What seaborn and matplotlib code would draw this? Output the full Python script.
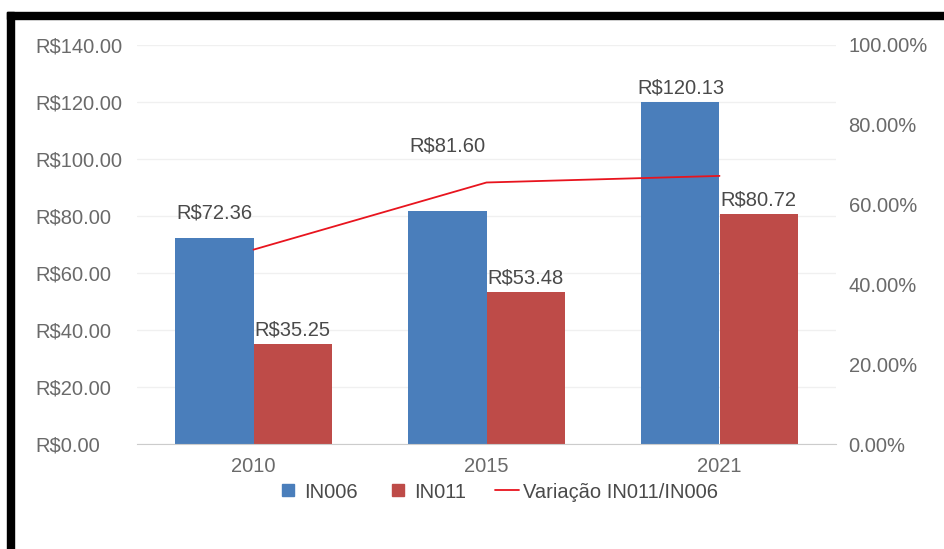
import seaborn as sns
import pandas as pd
import numpy as np
import matplotlib.pyplot as plt
from matplotlib.lines import Line2D
from matplotlib.patches import Rectangle
from matplotlib.ticker import FuncFormatter, MultipleLocator

anos = ['2010', '2015', '2021']
in006 = [72.36, 81.60, 120.13]
in011 = [35.25, 53.48, 80.72]
variacao = [48.71, 65.54, 67.19]  # %

sns.set_style('white')
plt.rcParams['font.family'] = ['Liberation Sans', 'DejaVu Sans']
plt.rcParams['text.parse_math'] = False

azul = '#4a7ebb'
vermelho = '#be4b48'
linha = '#e8141e'
cinza = '#6a6a6a'

df = pd.DataFrame({
    'ano': anos * 2,
    'valor': in006 + in011,
    'serie': ['IN006'] * 3 + ['IN011'] * 3,
})

fig = plt.figure(figsize=(9.44, 5.49), dpi=100)
ax = fig.add_axes([137 / 944, 1 - 444 / 549, 699 / 944, 399 / 549])

sns.barplot(data=df, x='ano', y='valor', hue='serie', palette=[azul, vermelho],
            width=0.67, gap=0, saturation=1, linewidth=0, ax=ax, legend=False)
ax.set_ylim(0, 140)
ax.set_xlim(-0.5, 2.5)
ax.yaxis.set_major_locator(MultipleLocator(20))
ax.yaxis.set_major_formatter(FuncFormatter(lambda v, p: f'R${v:.2f}'))
ax.set_xlabel('')
ax.set_ylabel('')
ax.grid(axis='y', color='#f0f0f0', linewidth=1)
ax.set_axisbelow(True)
for s in ['top', 'right', 'left']:
    ax.spines[s].set_visible(False)
ax.spines['bottom'].set_color('#cccccc')
ax.tick_params(axis='y', length=0, pad=73, labelsize=14.5, labelcolor=cinza)
ax.tick_params(axis='x', length=0, pad=9, labelsize=14.5, labelcolor=cinza)
for lab in ax.get_yticklabels():
    lab.set_horizontalalignment('left')

# rótulos das barras (alguns deslocados para não cruzar a linha)
pads = [[11, 40, 3], [3, 3, 3]]
for cont, vals, pd_ in zip(ax.containers, [in006, in011], pads):
    for bar, v, p in zip(cont, vals, pd_):
        ax.annotate(f'R${v:.2f}', (bar.get_x() + bar.get_width() / 2, bar.get_height()),
                    xytext=(0, p), textcoords='offset points', ha='center', va='bottom',
                    fontsize=14.5, color='#4a4a4a')

ax2 = ax.twinx()
sns.lineplot(x=np.arange(len(anos)), y=variacao, color=linha, linewidth=1.3, ax=ax2)
ax2.set_ylim(0, 100)
ax2.yaxis.set_major_locator(MultipleLocator(20))
ax2.yaxis.set_major_formatter(FuncFormatter(lambda v, p: f'{v:.2f}%'))
for s in ax2.spines.values():
    s.set_visible(False)
ax2.tick_params(axis='y', length=0, pad=9, labelsize=14.5, labelcolor=cinza)

handles = [
    Line2D([], [], marker='s', linestyle='none', markersize=8, color=azul),
    Line2D([], [], marker='s', linestyle='none', markersize=8, color=vermelho),
    Line2D([], [], color=linha, linewidth=1.3),
]
fig.legend(handles, ['IN006', 'IN011', 'Variação IN011/IN006'], loc='center',
           bbox_to_anchor=(497 / 944, 1 - 492 / 549), ncol=3, frameon=False,
           fontsize=14.5, labelcolor='#4a4a4a', handlelength=1.2, handletextpad=0.2,
           columnspacing=1.4)

# moldura preta da captura
fig.add_artist(Rectangle((7 / 944, 1 - 19 / 549), 1, 7 / 549, transform=fig.transFigure,
                         color='black', zorder=10))
fig.add_artist(Rectangle((7 / 944, 0), 7 / 944, 1 - 12 / 549, transform=fig.transFigure,
                         color='black', zorder=10))

fig.savefig('out.png', dpi=100)
